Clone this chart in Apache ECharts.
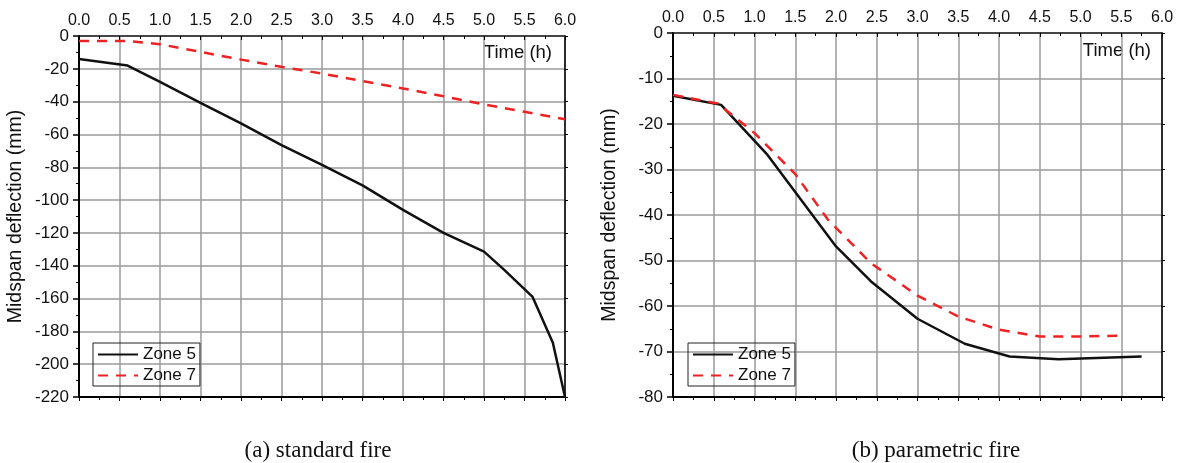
<!DOCTYPE html>
<html><head><meta charset="utf-8">
<script src="https://cdn.jsdelivr.net/npm/echarts@6/dist/echarts.min.js"></script>
<style>html,body{margin:0;padding:0;background:#fff}#c{width:1183px;height:463px}</style>
</head><body><div id="c"></div>
<script>
// (a) standard fire
const stdTime5 = [0, 0.6, 1.0, 1.5, 2.0, 2.5, 3.0, 3.5, 4.0, 4.5, 5.0, 5.25, 5.6, 5.85, 6.0];
const stdZone5 = [-14, -18, -28, -40.7, -53.3, -66.5, -78.6, -91, -106, -120, -131.4, -142.5, -159, -187, -220];
const stdTime7 = [0, 0.6, 1.0, 1.5, 2.0, 2.5, 3.0, 3.5, 4.0, 4.5, 5.0, 5.5, 6.0];
const stdZone7 = [-3, -3, -5, -9.7, -14.4, -18.8, -22.9, -27.5, -32, -36.7, -41.7, -46.2, -50.7];
// (b) parametric fire
const parTime5 = [0, 0.59, 1.16, 2.0, 2.43, 3.0, 3.58, 4.13, 4.73, 5.75];
const parZone5 = [-13.8, -15.8, -26.8, -46.9, -54.6, -62.8, -68.3, -71.1, -71.7, -71.1];
const parTime7 = [0, 0.55, 1.0, 1.5, 1.9, 2.43, 3.0, 3.5, 4.0, 4.5, 5.0, 5.5];
const parZone7 = [-13.6, -15.5, -22, -31, -41, -50.6, -57.7, -62.3, -65.2, -66.7, -66.7, -66.5];

const seriesNames = ['Zone 5', 'Zone 7'];
const yAxisName = 'Midspan deflection (mm)';
const xAxisName = 'Time (h)';
const captions = ['(a) standard fire', '(b) parametric fire'];

const FONT = '"Liberation Sans", Arial, sans-serif';
const SERIF = '"Liberation Serif", "Times New Roman", serif';
const zip = (a, b) => a.map((v, i) => [v, b[i]]);

const grids = [
  {left: 79, top: 36, width: 486, height: 361},
  {left: 673, top: 33, width: 489, height: 364}
];

function xAxes(gi) {
  return [
    {gridIndex: gi, type: 'value', position: 'top', min: 0, max: 6, interval: 0.5,
     axisLine: {show: true, lineStyle: {color: '#222', width: 1.5}},
     axisTick: {show: true, inside: true, length: 4, lineStyle: {color: '#000'}},
     minorTick: {show: true, splitNumber: 2, length: 3, lineStyle: {color: '#000'}},
     axisLabel: {color: '#111', fontSize: 16, fontFamily: FONT, margin: 7,
       formatter: v => v.toFixed(1)},
     splitLine: {show: true, lineStyle: {color: '#9a9a9a', width: 1.5}}},
    {gridIndex: gi, type: 'value', position: 'bottom', min: 0, max: 6, interval: 0.5,
     axisLine: {show: true, onZero: false, lineStyle: {color: '#000', width: 2}},
     axisTick: {show: true, length: 4, lineStyle: {color: '#000'}},
     minorTick: {show: true, splitNumber: 2, length: 3, lineStyle: {color: '#000'}},
     axisLabel: {show: false}, splitLine: {show: false}}
  ];
}
function yAxes(gi, min, interval) {
  return [
    {gridIndex: gi, type: 'value', position: 'left', min: min, max: 0, interval: interval,
     name: yAxisName, nameLocation: 'middle', nameGap: 53, nameRotate: 90,
     nameTextStyle: {fontSize: 19.5, fontFamily: FONT, color: '#111'},
     axisLine: {show: true, onZero: false, lineStyle: {color: '#000', width: 2}},
     axisTick: {show: true, length: 6, lineStyle: {color: '#000', width: 1.5}},
     minorTick: {show: true, splitNumber: 2, length: 3, lineStyle: {color: '#000'}},
     axisLabel: {color: '#111', fontSize: 17, fontFamily: FONT, margin: 10},
     splitLine: {show: true, lineStyle: {color: '#9a9a9a', width: 1.5}}},
    {gridIndex: gi, type: 'value', position: 'right', min: min, max: 0, interval: interval,
     axisLine: {show: true, onZero: false, lineStyle: {color: '#000', width: 1.5}},
     axisTick: {show: true, length: 3, lineStyle: {color: '#000'}},
     axisLabel: {show: false}, splitLine: {show: false}}
  ];
}

const lineBase = {type: 'line', symbol: 'none', silent: true, animation: false};
const s5 = {color: '#111', lineStyle: {color: '#111', width: 2.5, type: 'solid'}};
const s7 = {color: '#ee2222', lineStyle: {color: '#ee2222', width: 2.5, type: [10, 8]}};

const legendBase = {orient: 'vertical', data: seriesNames, itemWidth: 40, itemHeight: 16, itemGap: 4,
  borderColor: '#222', borderWidth: 1, borderRadius: 0, padding: [3, 4, 2, 4],
  itemStyle: {opacity: 0},
  textStyle: {fontSize: 17, lineHeight: 16, fontFamily: FONT, color: '#111'}, selectedMode: false};

const option = {
  animation: false,
  grid: grids.map(g => Object.assign({show: false, containLabel: false}, g)),
  xAxis: [...xAxes(0), ...xAxes(1)],
  yAxis: [...yAxes(0, -220, 20), ...yAxes(1, -80, 10)],
  legend: [
    Object.assign({left: 93, top: 343}, legendBase),
    Object.assign({left: 688, top: 343}, legendBase)
  ],
  series: [
    Object.assign({name: seriesNames[0], xAxisIndex: 0, yAxisIndex: 0, data: zip(stdTime5, stdZone5)}, lineBase, s5),
    Object.assign({name: seriesNames[1], xAxisIndex: 0, yAxisIndex: 0, data: zip(stdTime7, stdZone7)}, lineBase, s7),
    Object.assign({name: seriesNames[0], xAxisIndex: 2, yAxisIndex: 2, data: zip(parTime5, parZone5)}, lineBase, s5),
    Object.assign({name: seriesNames[1], xAxisIndex: 2, yAxisIndex: 2, data: zip(parTime7, parZone7)}, lineBase, s7)
  ],
  graphic: [
    {type: 'text', right: 1183 - 552, top: 43, style: {text: xAxisName, fontSize: 18.5, fontFamily: FONT, fill: '#111'}},
    {type: 'text', right: 1183 - 1151, top: 41, style: {text: xAxisName, fontSize: 18.5, fontFamily: FONT, fill: '#111'}},
    {type: 'text', x: 318, y: 451, style: {text: captions[0], fontSize: 23, fontFamily: SERIF, fill: '#111', align: 'center', verticalAlign: 'middle'}},
    {type: 'text', x: 936, y: 451, style: {text: captions[1], fontSize: 23, fontFamily: SERIF, fill: '#111', align: 'center', verticalAlign: 'middle'}}
  ]
};
echarts.init(document.getElementById('c'), null, {renderer: 'canvas'}).setOption(option);
</script></body></html>
